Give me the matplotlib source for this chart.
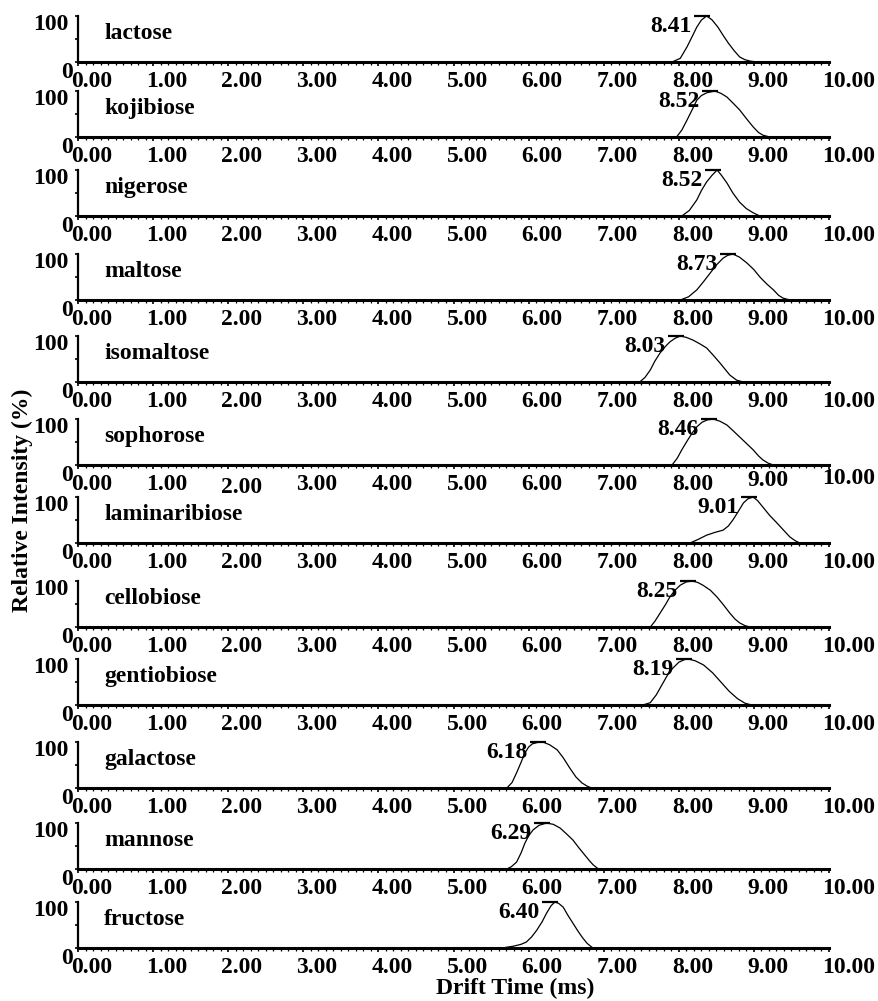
"""Stacked drift-time spectra of disaccharide and monosaccharide standards."""
import matplotlib
import matplotlib.pyplot as plt
from matplotlib.ticker import MultipleLocator

matplotlib.use("Agg")

plt.rcParams["font.family"] = ["Liberation Serif", "DejaVu Serif"]
plt.rcParams["font.weight"] = "bold"
FS = 17

NAMES = ["lactose", "kojibiose", "nigerose", "maltose", "isomaltose", "sophorose",
         "laminaribiose", "cellobiose", "gentiobiose", "galactose", "mannose", "fructose"]
PEAK_LABELS = ["8.41", "8.52", "8.52", "8.73", "8.03", "8.46",
               "9.01", "8.25", "8.19", "6.18", "6.29", "6.40"]
X_TICKS = [0, 1, 2, 3, 4, 5, 6, 7, 8, 9, 10]

LACTOSE_X = [7.91, 8.02, 8.11, 8.18, 8.24, 8.30, 8.37, 8.44, 8.52, 8.59, 8.66, 8.74, 8.81, 8.88, 8.95, 9.04]
LACTOSE_Y = [0, 8, 33, 56, 76, 91, 100, 92, 76, 58, 41, 24, 11, 5, 2, 0]
KOJIBIOSE_X = [7.97, 8.04, 8.11, 8.18, 8.24, 8.30, 8.37, 8.48, 8.56, 8.64, 8.72, 8.81, 8.90, 8.99, 9.06, 9.12, 9.21]
KOJIBIOSE_Y = [0, 15, 37, 60, 80, 90, 96, 100, 95, 87, 74, 59, 40, 22, 10, 4, 0]
NIGEROSE_X = [8.04, 8.14, 8.24, 8.30, 8.37, 8.44, 8.51, 8.57, 8.64, 8.72, 8.81, 8.90, 8.99, 9.08]
NIGEROSE_Y = [0, 12, 35, 55, 74, 88, 100, 88, 72, 50, 30, 16, 7, 0]
MALTOSE_X = [8.02, 8.13, 8.24, 8.33, 8.42, 8.50, 8.59, 8.65, 8.72, 8.81, 8.91, 9.00, 9.08, 9.17, 9.26, 9.33, 9.39, 9.48]
MALTOSE_Y = [0, 7, 22, 40, 59, 76, 91, 97, 100, 93, 80, 66, 50, 35, 22, 10, 4, 0]
ISOMALTOSE_X = [7.48, 7.55, 7.62, 7.68, 7.75, 7.82, 7.88, 7.95, 8.02, 8.10, 8.19, 8.28, 8.37, 8.46, 8.55, 8.62, 8.68, 8.77, 8.86]
ISOMALTOSE_Y = [0, 10, 26, 45, 63, 77, 87, 95, 100, 97, 91, 83, 74, 58, 41, 27, 15, 4, 0]
SOPHOROSE_X = [7.91, 7.98, 8.04, 8.11, 8.18, 8.24, 8.31, 8.38, 8.46, 8.55, 8.64, 8.72, 8.81, 8.90, 8.99, 9.06, 9.12, 9.19, 9.26]
SOPHOROSE_Y = [0, 15, 33, 52, 70, 83, 93, 98, 100, 95, 87, 75, 61, 47, 33, 20, 11, 4, 0]
LAMINARIBIOSE_X = [8.15, 8.26, 8.37, 8.48, 8.59, 8.66, 8.72, 8.79, 8.86, 8.92, 8.99, 9.05, 9.12, 9.21, 9.31, 9.40, 9.48, 9.55, 9.61]
LAMINARIBIOSE_Y = [0, 8, 17, 23, 28, 37, 50, 68, 87, 96, 100, 92, 78, 60, 43, 27, 13, 5, 0]
CELLOBIOSE_X = [7.62, 7.68, 7.75, 7.82, 7.88, 7.95, 8.02, 8.10, 8.18, 8.25, 8.32, 8.42, 8.51, 8.60, 8.68, 8.75, 8.81, 8.88, 8.95]
CELLOBIOSE_Y = [0, 12, 30, 48, 65, 80, 91, 98, 100, 97, 91, 80, 65, 47, 30, 17, 9, 3, 0]
GENTIOBIOSE_X = [7.52, 7.62, 7.70, 7.79, 7.86, 7.92, 8.00, 8.08, 8.13, 8.22, 8.33, 8.45, 8.56, 8.67, 8.78, 8.88, 8.97]
GENTIOBIOSE_Y = [0, 5, 22, 48, 68, 80, 93, 99, 100, 96, 87, 70, 50, 30, 14, 4, 0]
GALACTOSE_X = [5.71, 5.78, 5.84, 5.90, 5.95, 6.00, 6.05, 6.12, 6.19, 6.28, 6.38, 6.46, 6.55, 6.63, 6.71, 6.78, 6.84]
GALACTOSE_Y = [0, 12, 33, 56, 76, 89, 96, 99, 100, 94, 83, 66, 43, 24, 11, 4, 0]
MANNOSE_X = [5.71, 5.77, 5.84, 5.90, 5.95, 6.00, 6.06, 6.14, 6.24, 6.33, 6.42, 6.50, 6.59, 6.67, 6.75, 6.81, 6.86, 6.93]
MANNOSE_Y = [0, 5, 15, 35, 56, 72, 85, 95, 100, 97, 89, 77, 63, 46, 30, 18, 9, 0]
FRUCTOSE_X = [5.65, 5.72, 5.80, 5.90, 5.97, 6.04, 6.11, 6.18, 6.24, 6.30, 6.35, 6.40, 6.46, 6.52, 6.59, 6.66, 6.72, 6.78, 6.84, 6.86]
FRUCTOSE_Y = [0, 2, 4, 8, 13, 24, 39, 57, 76, 92, 100, 97, 89, 72, 54, 36, 22, 10, 2, 0]

TRACES = [
    (LACTOSE_X, LACTOSE_Y), (KOJIBIOSE_X, KOJIBIOSE_Y), (NIGEROSE_X, NIGEROSE_Y),
    (MALTOSE_X, MALTOSE_Y), (ISOMALTOSE_X, ISOMALTOSE_Y), (SOPHOROSE_X, SOPHOROSE_Y),
    (LAMINARIBIOSE_X, LAMINARIBIOSE_Y), (CELLOBIOSE_X, CELLOBIOSE_Y),
    (GENTIOBIOSE_X, GENTIOBIOSE_Y), (GALACTOSE_X, GALACTOSE_Y),
    (MANNOSE_X, MANNOSE_Y), (FRUCTOSE_X, FRUCTOSE_Y),
]

# layout (pixels of the 879x1001 canvas)
W, H = 879, 1001
LEFT_PX, WIDTH_PX, PANEL_PX = 78, 751, 46
BASELINES_PX = [62, 137, 216, 300, 382, 465, 543, 627, 705, 788, 869, 948]
# odd hand-placed tick labels under the sophorose panel (vertical pixel shift)
TICK_NUDGE = {5: {2: -3, 9: 4, 10: 6}}

fig = plt.figure(figsize=(W / 100, H / 100), dpi=100)

for i, (name, label, (xs, ys)) in enumerate(zip(NAMES, PEAK_LABELS, TRACES)):
    base = BASELINES_PX[i]
    ax = fig.add_axes([LEFT_PX / W, 1 - base / H, WIDTH_PX / W, PANEL_PX / H])
    ax.set_xlim(0, 10)
    ax.set_ylim(0, 100)
    ax.patch.set_visible(False)
    for side in ("top", "right"):
        ax.spines[side].set_visible(False)
    ax.spines["left"].set_linewidth(1.6)
    ax.spines["bottom"].set_linewidth(2.2)

    ax.plot(xs, ys, color="black", lw=0.9, clip_on=False)
    top = ys.index(max(ys))
    ax.plot(xs[top] - 0.06, ys[top], marker="_", ms=11, mew=1.6, color="black", clip_on=False)
    ax.annotate(label, xy=(xs[top], ys[top]), xytext=(-15, 0), textcoords="offset pixels",
                ha="right", va="top", fontsize=FS)

    ax.text(0.035, 0.63, name, transform=ax.transAxes, ha="left", va="center", fontsize=FS)

    ax.set_xticks(X_TICKS)
    ax.xaxis.set_minor_locator(MultipleLocator(0.1))
    ax.set_xticklabels([f"{v:.2f}" for v in X_TICKS], fontsize=FS, ha="left")
    ax.tick_params(axis="x", which="major", direction="out", length=3, width=1.2, pad=0)
    ax.tick_params(axis="x", which="minor", direction="out", length=1.8, width=0.9)
    nudges = TICK_NUDGE.get(i, {})
    for v, lab in zip(X_TICKS, ax.get_xticklabels()):
        dy = nudges.get(v, 0) - 5
        lab.set_transform(lab.get_transform() + matplotlib.transforms.ScaledTranslation(
            -7 / 100, dy / 100, fig.dpi_scale_trans))

    ax.set_yticks([0, 50, 100])
    ax.set_yticklabels([])
    ax.tick_params(axis="y", direction="out", length=2.5, width=1.2)
    ax.annotate("100", xy=(0, 100), xycoords=("axes fraction", "data"), xytext=(-9, 2),
                textcoords="offset pixels", ha="right", va="top", fontsize=FS)
    ax.annotate("0", xy=(0, 0), xycoords=("axes fraction", "data"), xytext=(-5, 0),
                textcoords="offset pixels", ha="right", va="top", fontsize=FS)

fig.text(22 / W, 1 - 500 / H, "Relative Intensity (%)", rotation=90,
         ha="center", va="center", fontsize=FS)
fig.text(515 / W, 1 - 988 / H, "Drift Time (ms)", ha="center", va="center", fontsize=FS)

fig.savefig("out.png", dpi=100)
